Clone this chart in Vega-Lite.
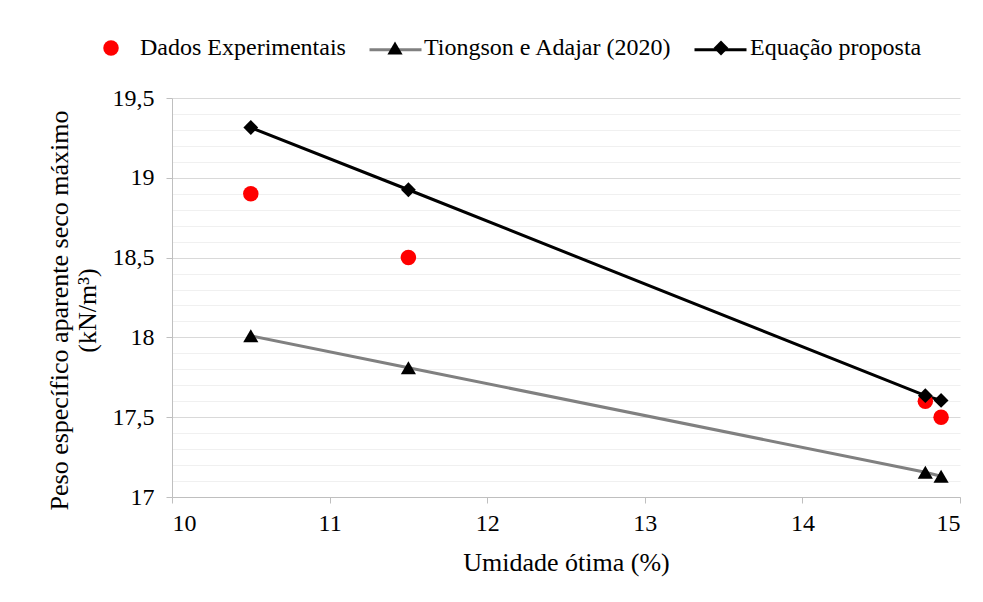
{
  "$schema": "https://vega.github.io/schema/vega-lite/v6.json",
  "width": 788,
  "height": 399,
  "autosize": "none",
  "padding": {"left": 172, "top": 98, "right": 23, "bottom": 105},
  "background": "white",
  "config": {
    "view": {"stroke": null},
    "font": "'Liberation Serif', 'Times New Roman', serif",
    "axis": {"labelFont": "'Liberation Serif', 'Times New Roman', serif", "titleFont": "'Liberation Serif', 'Times New Roman', serif", "labelColor": "#000000", "titleColor": "#000000", "titleFontWeight": "normal"},
    "legend": {"labelFont": "'Liberation Serif', 'Times New Roman', serif", "labelColor": "#000000", "labelLimit": 500}
  },
  "data": {
    "values": [
      {"s": "Dados Experimentais", "x": 10.5, "y": 18.9},
      {"s": "Dados Experimentais", "x": 11.5, "y": 18.5},
      {"s": "Dados Experimentais", "x": 14.78, "y": 17.6},
      {"s": "Dados Experimentais", "x": 14.88, "y": 17.5},
      {"s": "Tiongson e Adajar (2020)", "x": 10.5, "y": 18.01},
      {"s": "Tiongson e Adajar (2020)", "x": 11.5, "y": 17.81},
      {"s": "Tiongson e Adajar (2020)", "x": 14.78, "y": 17.155},
      {"s": "Tiongson e Adajar (2020)", "x": 14.88, "y": 17.13},
      {"s": "Equação proposta", "x": 10.5, "y": 19.315},
      {"s": "Equação proposta", "x": 11.5, "y": 18.925},
      {"s": "Equação proposta", "x": 14.78, "y": 17.635},
      {"s": "Equação proposta", "x": 14.88, "y": 17.605}
    ]
  },
  "encoding": {
    "x": {
      "field": "x", "type": "quantitative",
      "scale": {"domain": [10, 15], "nice": false, "zero": false},
      "axis": {
        "values": [10, 11, 12, 13, 14, 15],
        "grid": false,
        "domainColor": "#bfbfbf",
        "tickColor": "#bfbfbf",
        "tickSize": 6,
        "labelFontSize": 24,
        "labelPadding": 8,
        "title": "Umidade ótima (%)",
        "titleFontSize": 26,
        "titlePadding": 14
      }
    },
    "y": {
      "field": "y", "type": "quantitative",
      "scale": {"domain": [17, 19.5], "nice": false, "zero": false},
      "axis": {
        "values": [17, 17.1, 17.2, 17.3, 17.4, 17.5, 17.6, 17.7, 17.8, 17.9, 18, 18.1, 18.2, 18.3, 18.4, 18.5, 18.6, 18.7, 18.8, 18.9, 19, 19.1, 19.2, 19.3, 19.4, 19.5],
        "grid": true,
        "gridColor": {"condition": {"test": "abs(datum.value*2-round(datum.value*2))<0.001", "value": "#d9d9d9"}, "value": "#f0f0f0"},
        "gridWidth": 1.2,
        "tickColor": {"condition": {"test": "abs(datum.value*2-round(datum.value*2))<0.001", "value": "#bfbfbf"}, "value": "transparent"},
        "tickSize": 6,
        "domainColor": "#bfbfbf",
        "labelExpr": "abs(datum.value*2-round(datum.value*2))<0.001 ? replace(format(datum.value,''),'.',',') : ''",
        "labelFontSize": 24,
        "labelPadding": 12,
        "title": ["Peso específico aparente seco máximo", "(kN/m³)"],
        "titleFontSize": 26,
        "titleLineHeight": 28,
        "titlePadding": 12,
        "titleY": 212
      }
    }
  },
  "layer": [
    {
      "transform": [{"filter": "datum.s != 'Dados Experimentais'"}],
      "mark": {"type": "line", "strokeWidth": 3},
      "encoding": {
        "stroke": {
          "field": "s", "type": "nominal",
          "scale": {"domain": ["Tiongson e Adajar (2020)", "Equação proposta"], "range": ["#808080", "#000000"]},
          "legend": {
            "orient": "none", "direction": "horizontal", "legendX": 196, "legendY": -76,
            "title": null, "symbolType": "stroke", "symbolSize": 2704, "symbolStrokeWidth": 3,
            "labelExpr": "''", "labelOffset": 0, "columnPadding": 260, "padding": 0
          }
        }
      }
    },
    {
      "mark": {"type": "point", "filled": true, "opacity": 1, "strokeWidth": 0},
      "encoding": {
        "fill": {
          "field": "s", "type": "nominal",
          "scale": {"domain": ["Dados Experimentais", "Tiongson e Adajar (2020)", "Equação proposta"], "range": ["#ff0000", "#000000", "#000000"]},
          "legend": {
            "orient": "none", "direction": "horizontal", "legendX": -73, "legendY": -62,
            "title": null, "labelFontSize": 24, "labelOffset": 17, "columnPadding": 37, "padding": 0, "symbolStrokeWidth": 0
          }
        },
        "shape": {
          "field": "s", "type": "nominal",
          "scale": {"domain": ["Dados Experimentais", "Tiongson e Adajar (2020)", "Equação proposta"], "range": ["circle", "triangle-up", "diamond"]}
        },
        "size": {
          "field": "s", "type": "nominal",
          "scale": {"domain": ["Dados Experimentais", "Tiongson e Adajar (2020)", "Equação proposta"], "range": [240, 220, 200]}
        }
      }
    }
  ]
}
